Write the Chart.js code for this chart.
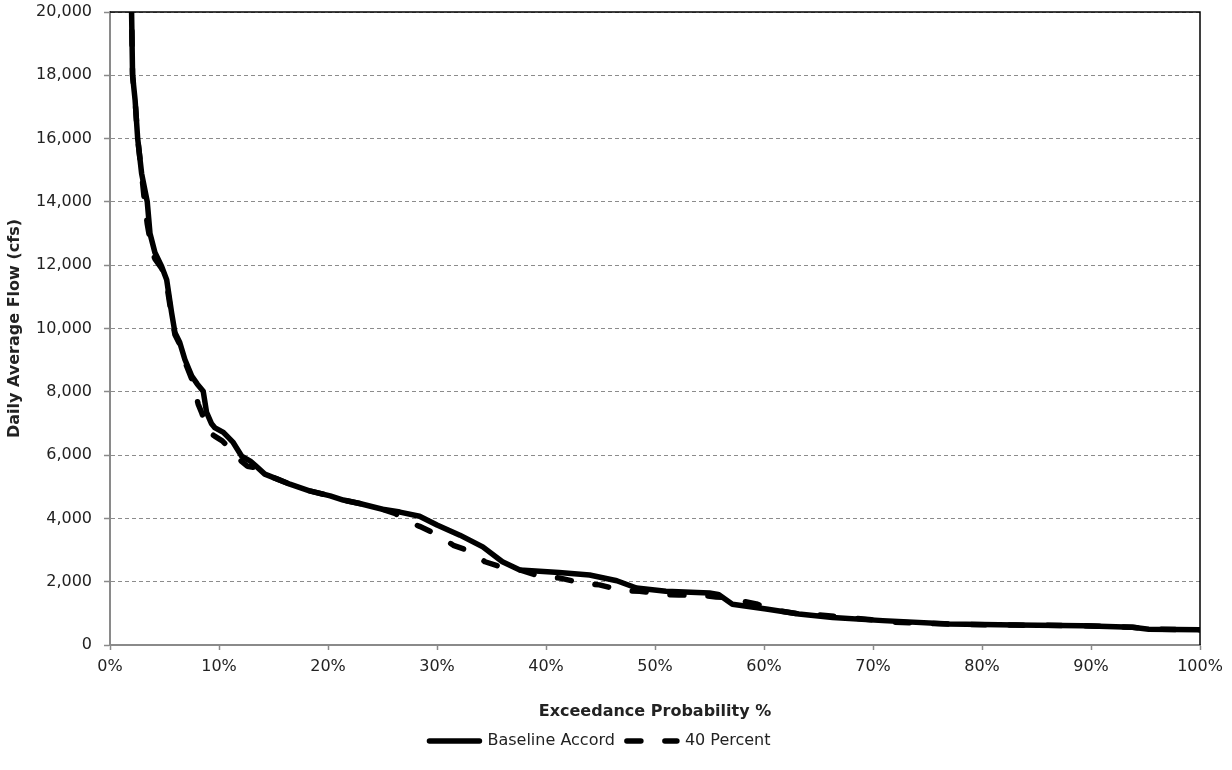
<!DOCTYPE html>
<html>
<head>
<meta charset="utf-8">
<script src="https://cdn.jsdelivr.net/npm/chart.js@4.4.1/dist/chart.umd.min.js"></script>
<style>
  html, body { margin: 0; padding: 0; background: #fff; }
  #wrap { width: 1232px; height: 770px; position: relative; }
</style>
</head>
<body>
<div id="wrap"><canvas id="flowChart"></canvas></div>
<script>
// Flow duration curves (exceedance % vs daily average flow)
const baselinePct = [1.7, 1.98, 2.07, 2.3, 2.54, 2.9, 3.42, 3.67, 4.12, 4.74, 5.2, 5.65, 5.96, 6.4, 6.87, 7.5, 8.0, 8.55, 8.86, 9.3, 9.6,
    10.4, 11.3, 12.07, 12.9, 13.4, 14.2, 15.3, 16.5, 18.3, 20.2, 21.4, 22.9, 25, 26.6, 28.4, 30, 32.1, 34.2, 36,
    37.6, 41.2, 44, 46.5, 48.3, 51, 55, 55.8, 57.1, 60.2, 63.2, 66.3, 70.9, 77, 83.1, 89.2, 93.8, 95.3, 100];
const baselineFlow = [23000, 20000, 18000, 17230, 16000, 14900, 14000, 13000, 12400, 11960, 11540, 10500, 9870, 9560, 9020, 8500, 8250, 8020, 7350, 7000, 6870,
    6720, 6400, 5970, 5800, 5650, 5400, 5250, 5080, 4870, 4710, 4580, 4470, 4290, 4200, 4070, 3790, 3470, 3100, 2630,
    2370, 2290, 2210, 2030, 1800, 1700, 1640, 1600, 1290, 1140, 980, 870, 770, 660, 630, 610, 560, 500, 480];

const fortyPct = [1.7, 1.98, 2.07, 2.3, 2.54, 2.9, 3.2, 3.42, 3.67, 3.9, 4.12, 4.74, 5.2, 5.65, 5.96, 6.4, 6.87, 7.5, 7.8, 8.1, 8.4, 9.0, 9.6,
    10.3, 11.3, 12.07, 12.6, 13.4, 14.2, 15.3, 16.5, 18.3, 20.2, 21.4, 22.9, 25, 26.2, 26.9, 28.4, 30.1, 31.5, 33.2,
    34.4, 36, 37.6, 39.6, 41.2, 43.4, 44.9, 47, 48.6, 50.7, 52.2, 54.4, 55.6, 56.5, 57.5, 59.3, 61.0, 63.2,
    65, 66.6, 68.5, 70.3, 72, 77, 83.1, 89.2, 93.8, 95.3, 100];
const fortyFlow = [23000, 20000, 18000, 17230, 16000, 14900, 13900, 13300, 12800, 12400, 12200, 11900, 11400, 10400, 9800, 9500, 8950, 8400, 8000, 7600, 7350, 6750, 6600,
    6450, 6100, 5800, 5650, 5600, 5380, 5250, 5080, 4870, 4710, 4580, 4470, 4290, 4150, 3950, 3750, 3470, 3150, 2940,
    2630, 2450, 2370, 2150, 2120, 1950, 1900, 1720, 1700, 1600, 1580, 1560, 1520, 1500, 1420, 1300, 1100, 980,
    950, 900, 840, 780, 720, 660, 630, 610, 560, 500, 480];

const seriesNames = ["Baseline Accord", "40 Percent"];
const xTicks = [0, 10, 20, 30, 40, 50, 60, 70, 80, 90, 100];
const yTicks = [0, 2000, 4000, 6000, 8000, 10000, 12000, 14000, 16000, 18000, 20000];

const FONT = "'DejaVu Sans', 'Liberation Sans', Arial, sans-serif";
const TEXT = "#222";
const AXIS = "#8a8a8a";
const LINE_W = 5.5;

function toPoints(xs, ys) {
    return xs.map((x, i) => ({ x: x, y: ys[i] }));
}

// black frame on the top and right of the plot area
const plotFrame = {
    id: "plotFrame",
    afterDatasetsDraw(chart) {
        const { ctx, chartArea: a } = chart;
        ctx.save();
        ctx.strokeStyle = "#000";
        ctx.lineWidth = 1.5;
        ctx.beginPath();
        ctx.moveTo(a.left, a.top);
        ctx.lineTo(a.right, a.top);
        ctx.lineTo(a.right, a.bottom);
        ctx.stroke();
        ctx.restore();
    }
};

new Chart(document.getElementById("flowChart"), {
    type: "line",
    data: {
        datasets: [{
            label: seriesNames[0],
            data: toPoints(baselinePct, baselineFlow),
            borderColor: "#000",
            backgroundColor: "#000",
            borderWidth: LINE_W,
            borderCapStyle: "round",
            borderJoinStyle: "round",
            pointRadius: 0,
            tension: 0,
            clip: 0
        }, {
            label: seriesNames[1],
            data: toPoints(fortyPct, fortyFlow),
            borderColor: "#000",
            backgroundColor: "#000",
            borderWidth: LINE_W,
            borderDash: [14, 24],
            borderCapStyle: "round",
            borderJoinStyle: "round",
            pointRadius: 0,
            tension: 0,
            clip: 0
        }]
    },
    options: {
        responsive: true,
        maintainAspectRatio: false,
        animation: false,
        layout: { padding: { top: 12, right: 32, bottom: 11, left: 0 } },
        plugins: {
            legend: {
                position: "bottom",
                labels: {
                    usePointStyle: true,
                    pointStyleWidth: 50,
                    padding: 12,
                    color: TEXT,
                    font: { family: FONT, size: 16 },
                    // line samples keep the dataset dash pattern
                    generateLabels: chart => chart.data.datasets.map((ds, i) => ({
                        text: ds.label,
                        fillStyle: "#000",
                        strokeStyle: "#000",
                        fontColor: TEXT,
                        lineWidth: LINE_W,
                        lineDash: ds.borderDash || [],
                        lineCap: "round",
                        pointStyle: "line",
                        hidden: false,
                        datasetIndex: i
                    }))
                }
            },
            tooltip: { enabled: false }
        },
        scales: {
            x: {
                type: "linear",
                min: 0,
                max: 100,
                afterBuildTicks: scale => { scale.ticks = xTicks.map(v => ({ value: v })); },
                afterFit: scale => {
                    scale.height = 76;
                    scale.paddingLeft = 0;
                    scale.paddingRight = 0;
                },
                ticks: {
                    callback: v => v + "%",
                    color: TEXT,
                    padding: 7,
                    maxRotation: 0,
                    font: { family: FONT, size: 16 }
                },
                grid: { drawOnChartArea: false, tickLength: 5, tickColor: AXIS, tickWidth: 1.5 },
                border: { color: AXIS, width: 2 },
                title: {
                    display: true,
                    text: "Exceedance Probability %",
                    color: TEXT,
                    font: { family: FONT, size: 16, weight: "bold" },
                    padding: { top: 0, bottom: 0 }
                }
            },
            y: {
                min: 0,
                max: 20000,
                afterBuildTicks: scale => { scale.ticks = yTicks.map(v => ({ value: v })); },
                afterFit: scale => {
                    scale.width = 110;
                    scale.paddingTop = 0;
                    scale.paddingBottom = 0;
                },
                ticks: {
                    callback: v => v.toLocaleString("en-US"),
                    color: TEXT,
                    padding: 12,
                    font: { family: FONT, size: 16 }
                },
                grid: { color: "#8c8c8c", lineWidth: 1, tickLength: 6, tickColor: AXIS, tickWidth: 1.5 },
                border: { color: AXIS, width: 2, dash: [4, 3] },
                title: {
                    display: true,
                    text: "Daily Average Flow (cfs)",
                    color: TEXT,
                    font: { family: FONT, size: 16, weight: "bold" },
                    padding: { top: 5, bottom: 0 }
                }
            }
        }
    },
    plugins: [plotFrame]
});
</script>
</body>
</html>
